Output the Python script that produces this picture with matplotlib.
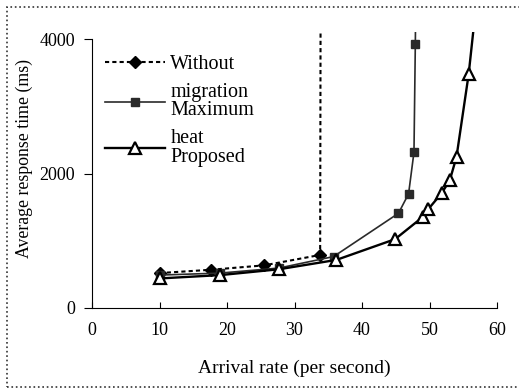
import matplotlib
matplotlib.use("Agg")
import matplotlib.pyplot as plt
from matplotlib.patches import Rectangle

plt.rcParams['font.family'] = ['Liberation Serif', 'DejaVu Serif']

# arrival rate (per second) vs average response time (ms)
x_without = [10, 17.7, 25.5, 33.8, 34.0]
y_without = [520, 570, 635, 790, 12000]

x_maxheat = [10, 19, 27.7, 35.8, 45.4, 46.9, 47.7, 47.9, 48.1]
y_maxheat = [490, 520, 595, 766, 1410, 1700, 2320, 3930, 6000]

x_proposed = [10, 19, 27.7, 36.2, 44.9, 49.0, 49.8, 51.8, 53.0, 54.0, 55.8, 57.0]
y_proposed = [440, 490, 577, 716, 1025, 1355, 1470, 1710, 1900, 2250, 3480, 4600]

xticks = [0, 10, 20, 30, 40, 50, 60]
yticks = [0, 2000, 4000]

fig = plt.figure(figsize=(5.19, 3.88), dpi=100)
ax = fig.add_axes([92/519, 80/388, 405/519, 276/388])

l1, = ax.plot(x_without, y_without, color='black', lw=1.5, ls=(0, (2, 1.5)),
              marker='D', ms=6, mfc='black', mec='black')
l2, = ax.plot(x_maxheat, y_maxheat, color='#2a2a2a', lw=1.2, ls='-',
              marker='s', ms=6, mfc='#2a2a2a', mec='#2a2a2a')
l3, = ax.plot(x_proposed, y_proposed, color='black', lw=1.7, ls='-',
              marker='^', ms=8.5, mfc='white', mec='black', mew=1.6)

ax.set_xlim(0, 60)
ax.set_ylim(0, 4110)
ax.set_xticks(xticks)
ax.set_yticks(yticks)
ax.spines['top'].set_visible(False)
ax.spines['right'].set_visible(False)
ax.spines['left'].set_bounds(0, 4000)
ax.spines['left'].set_linewidth(0.8)
ax.spines['bottom'].set_linewidth(0.8)
ax.tick_params(axis='y', direction='out', length=6, width=0.8, pad=6, labelsize=13)
ax.tick_params(axis='x', direction='in', length=4, width=0.8, pad=10, labelsize=13)

ax.set_xlabel('Arrival rate (per second)', fontsize=14, labelpad=15)
ax.set_ylabel('Average response time (ms)', fontsize=12.8)
ax.yaxis.set_label_coords(-0.145, 0.54)

leg = ax.legend([l1, l2, l3], ['Without', 'migration\nMaximum', 'heat\nProposed'],
                loc='upper left', bbox_to_anchor=(0.032, 0.917), frameon=False,
                fontsize=14.5, handlelength=3.0, handletextpad=0.25,
                labelspacing=0.45, borderaxespad=0, borderpad=0)
for t in leg.get_texts():
    t.set_linespacing(0.95)

# dotted border round the whole figure
fig.patches.append(Rectangle((7/519, 1/388), 1.0, 380/388, transform=fig.transFigure,
                             fill=False, ls=':', lw=1.2, ec='#333333'))

fig.savefig('out.png', dpi=100)
